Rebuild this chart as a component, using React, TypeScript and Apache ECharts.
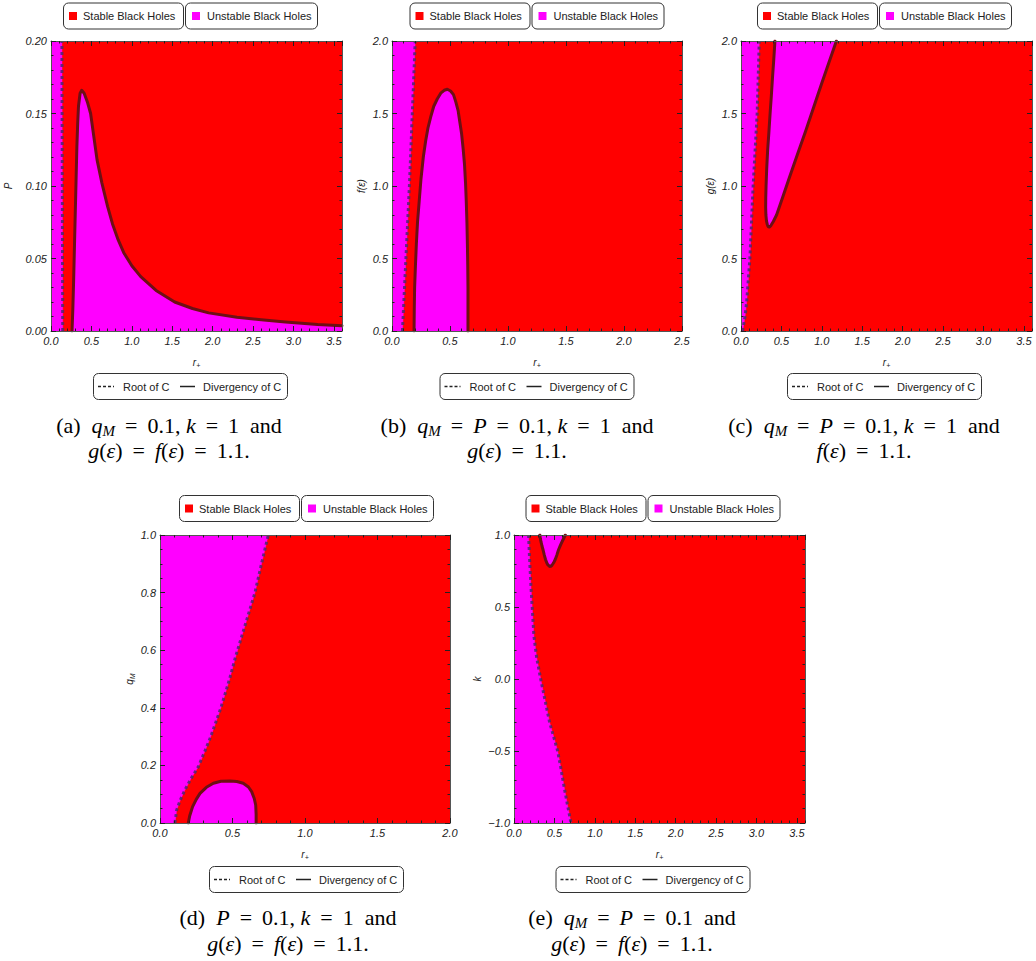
import React, { useEffect, useRef } from 'react';
import * as echarts from 'echarts';

// ---------- colours ----------
const RED = '#ff0000';
const MAGENTA = '#ff00ff';
const DIV_COLOR = '#6e0f14';
const ROOT_COLOR = '#4a2a6e';

// ---------- data ----------
// Panel (a): P vs r+
const aRoot = [[0.145, 0], [0.14, 0.1], [0.135, 0.2]];
const aDiv = [
  [0.26, 0], [0.27, 0.015], [0.28, 0.035], [0.29, 0.058], [0.3, 0.081], [0.31, 0.104],
  [0.32, 0.127], [0.33, 0.143], [0.34, 0.155], [0.36, 0.164], [0.38, 0.166], [0.41, 0.164], [0.45, 0.158],
  [0.49, 0.15], [0.53, 0.134], [0.57, 0.118], [0.63, 0.102], [0.7, 0.086], [0.76, 0.074],
  [0.83, 0.063], [0.9, 0.054], [1.0, 0.045], [1.11, 0.0375], [1.3, 0.028], [1.53, 0.02], [1.75, 0.0155],
  [1.95, 0.0125], [2.3, 0.0095], [2.6, 0.0078], [2.9, 0.0062], [3.3, 0.0045], [3.6, 0.0036],
];
// Panel (b): f(eps) vs r+
const bRoot = [[0.09, 0], [0.12, 0.5], [0.15, 1.0], [0.175, 1.5], [0.2, 2.0]];
const bDiv = [
  [0.19, 0], [0.192, 0.15], [0.195, 0.3], [0.202, 0.45], [0.21, 0.6], [0.22, 0.75], [0.235, 0.9],
  [0.25, 1.05], [0.27, 1.2], [0.29, 1.31], [0.31, 1.4], [0.335, 1.48], [0.36, 1.55], [0.39, 1.6],
  [0.42, 1.64], [0.45, 1.66], [0.477, 1.667], [0.505, 1.655], [0.53, 1.63], [0.55, 1.58], [0.57, 1.52],
  [0.585, 1.44], [0.6, 1.36], [0.613, 1.26], [0.625, 1.15], [0.634, 1.02], [0.64, 0.9], [0.646, 0.75],
  [0.65, 0.6], [0.653, 0.45], [0.655, 0.3], [0.655, 0.15], [0.655, 0],
];
// Panel (c): g(eps) vs r+
const cRoot = [[0.02, 0], [0.05, 0.1], [0.07, 0.2], [0.11, 0.5], [0.15, 1.0], [0.18, 1.3], [0.2, 1.5], [0.226, 2.0]];
const cDiv = [
  [0.42, 2.0], [0.405, 1.87], [0.39, 1.75], [0.375, 1.62], [0.36, 1.5], [0.345, 1.37], [0.33, 1.25],
  [0.318, 1.12], [0.31, 1.0], [0.306, 0.92], [0.305, 0.85], [0.308, 0.8], [0.315, 0.76],
  [0.325, 0.735], [0.335, 0.72], [0.35, 0.717], [0.37, 0.727], [0.4, 0.755], [0.44, 0.8],
  [0.52, 0.93], [0.6, 1.06], [0.7, 1.22], [0.8, 1.38], [0.9, 1.545], [1.0, 1.71], [1.09, 1.855], [1.18, 2.0],
];
// Panel (d): q_M vs r+
const dRoot = [
  [0.103, 0], [0.115, 0.045], [0.14, 0.08], [0.172, 0.115], [0.215, 0.155], [0.264, 0.195],
  [0.31, 0.25], [0.35, 0.3], [0.385, 0.35], [0.42, 0.4], [0.45, 0.45], [0.48, 0.5],
  [0.52, 0.575], [0.563, 0.647], [0.61, 0.725], [0.655, 0.8], [0.7, 0.9], [0.747, 1.0],
];
const dDiv = [
  [0.195, 0], [0.205, 0.025], [0.225, 0.057], [0.25, 0.082], [0.276, 0.103], [0.32, 0.124],
  [0.368, 0.138], [0.42, 0.145], [0.483, 0.146], [0.53, 0.144], [0.574, 0.138], [0.61, 0.125],
  [0.632, 0.109], [0.65, 0.085], [0.66, 0.0625], [0.663, 0.03], [0.663, 0],
];
// Panel (e): k vs r+
const eRoot = [
  [0.18, 1.0], [0.19, 0.87], [0.2, 0.75], [0.212, 0.62], [0.225, 0.5], [0.246, 0.3], [0.28, 0.15],
  [0.33, 0], [0.385, -0.15], [0.44, -0.3], [0.49, -0.4], [0.54, -0.5], [0.58, -0.62], [0.62, -0.75],
  [0.66, -0.87], [0.705, -1.0],
];
const eDiv = [
  [0.32, 1.0], [0.326, 0.975], [0.335, 0.95], [0.347, 0.922], [0.36, 0.896], [0.375, 0.86],
  [0.39, 0.83], [0.405, 0.807], [0.42, 0.792], [0.44, 0.782], [0.455, 0.783], [0.47, 0.79],
  [0.49, 0.807], [0.51, 0.83], [0.53, 0.86], [0.55, 0.896], [0.575, 0.93], [0.6, 0.96], [0.635, 1.0],
];

// axis ranges: [min, max, major, minor, decimals]
const aX = [0, 3.6, 0.5, 0.1, 1];
const aY = [0, 0.2, 0.05, 0.01, 2];
const bX = [0, 2.5, 0.5, 0.1, 1];
const bY = [0, 2, 0.5, 0.1, 1];
const cX = [0, 3.6, 0.5, 0.1, 1];
const cY = [0, 2, 0.5, 0.1, 1];
const dX = [0, 2, 0.5, 0.1, 1];
const dY = [0, 1, 0.2, 0.05, 1];
const eX = [0, 3.6, 0.5, 0.1, 1];
const eY = [-1, 1, 0.5, 0.1, 1];

const SANS = "'Liberation Sans', Arial, Helvetica, sans-serif";
const SERIF = "'Liberation Serif', 'DejaVu Serif', 'Times New Roman', serif";

const L2_GF = '{i|g}{r|(}{i|ε}{r|)}{e|=}{i|f}{r|(}{i|ε}{r|)}{e|=}{r|1.1.}';

const panels = [
  {
    grid: { left: 51, top: 41, width: 291, height: 290 }, xr: aX, yr: aY,
    yName: '{i|P}', yGap: 36,
    leftFill: [[0, 0], ...aRoot, [0, 0.2]], divFill: [...aDiv, [3.6, 0]], root: aRoot, div: aDiv,
    lcx: 190, lTop: 2.5, bTop: 373,
    cap1: '{r|(a)  }{i|q}{s|M}{e|=}{r|0.1, }{i|k}{e|=}{r|1  and}', cap2: L2_GF, capX: 169, capY1: 425, capY2: 450,
  },
  {
    grid: { left: 392, top: 41, width: 290, height: 290 }, xr: bX, yr: bY,
    yName: '{i|f}{i|(}{i|ε}{i|)}', yGap: 24,
    leftFill: [[0, 0], ...bRoot, [0, 2]], divFill: bDiv, root: bRoot, div: bDiv,
    lcx: 536.5, lTop: 2.5, bTop: 373,
    cap1: '{r|(b)  }{i|q}{s|M}{e|=}{i|P}{e|=}{r|0.1, }{i|k}{e|=}{r|1  and}',
    cap2: '{i|g}{r|(}{i|ε}{r|)}{e|=}{r|1.1.}', capX: 517, capY1: 425, capY2: 450,
  },
  {
    grid: { left: 741, top: 41, width: 291, height: 290 }, xr: cX, yr: cY,
    yName: '{i|g}{i|(}{i|ε}{i|)}', yGap: 24,
    leftFill: [[0, 0], ...cRoot, [0, 2]], divFill: cDiv, root: cRoot, div: cDiv,
    lcx: 884, lTop: 2.5, bTop: 373,
    cap1: '{r|(c)  }{i|q}{s|M}{e|=}{i|P}{e|=}{r|0.1, }{i|k}{e|=}{r|1  and}',
    cap2: '{i|f}{r|(}{i|ε}{r|)}{e|=}{r|1.1.}', capX: 864, capY1: 425, capY2: 450,
  },
  {
    grid: { left: 160, top: 535, width: 290, height: 288 }, xr: dX, yr: dY,
    yName: '{i|q}{s|M}', yGap: 24,
    leftFill: [[0, 0], ...dRoot, [0, 1]], divFill: dDiv, root: dRoot, div: dDiv,
    lcx: 306, lTop: 495, bTop: 866,
    cap1: '{r|(d)  }{i|P}{e|=}{r|0.1, }{i|k}{e|=}{r|1  and}', cap2: L2_GF, capX: 288, capY1: 917, capY2: 943,
  },
  {
    grid: { left: 514, top: 535, width: 291, height: 288 }, xr: eX, yr: eY,
    yName: '{i|k}', yGap: 30,
    leftFill: [[0, 1], ...eRoot, [0, -1]], divFill: eDiv, root: eRoot, div: eDiv,
    lcx: 652.5, lTop: 495, bTop: 866,
    cap1: '{r|(e)  }{i|q}{s|M}{e|=}{i|P}{e|=}{r|0.1  and}', cap2: L2_GF, capX: 632, capY1: 917, capY2: 943,
  },
];

function fmt(dec: number) {
  return (v: number) => {
    const s = Math.abs(v).toFixed(dec);
    return (v < -1e-9 ? '\u2212' : '') + s;
  };
}

const nameRich = {
  i: { fontStyle: 'italic', fontFamily: SANS, fontSize: 10, color: '#222', lineHeight: 13 },
  s: { fontStyle: 'italic', fontFamily: SANS, fontSize: 7, color: '#222', lineHeight: 8, verticalAlign: 'bottom' },
};

function makeAxis(dim: 'x' | 'y', i: number, p: any, pos: string, major: boolean, labels: boolean) {
  const r = dim === 'x' ? p.xr : p.yr;
  const [min, max, maj, mnr, dec] = r;
  const isMaxMultiple = Math.abs(Math.round(max / maj) * maj - max) < 1e-9;
  const ax: any = {
    type: 'value', gridIndex: i, position: pos, min, max, interval: major ? maj : mnr, z: 5,
    axisLine: { show: major, onZero: false, lineStyle: { color: '#555', width: 1 } },
    axisTick: { show: true, inside: true, length: major ? 5 : 2.5, lineStyle: { color: '#222', width: 1 } },
    splitLine: { show: false },
    axisLabel: labels
      ? {
          show: true, margin: 4, formatter: fmt(dec), color: '#222', fontFamily: SANS,
          fontStyle: 'italic', fontSize: 11, showMaxLabel: isMaxMultiple, showMinLabel: true,
        }
      : { show: false },
  };
  if (labels && dim === 'x') {
    ax.name = '{i|r}{s|+}';
    ax.nameLocation = 'middle';
    ax.nameGap = 25;
    ax.nameTextStyle = { rich: nameRich };
  }
  if (labels && dim === 'y') {
    ax.name = p.yName;
    ax.nameLocation = 'middle';
    ax.nameRotate = 90;
    ax.nameGap = p.yGap;
    ax.nameTextStyle = { rich: nameRich };
  }
  return ax;
}

function polySeries(points: number[][], i: number, color: string) {
  return {
    type: 'custom',
    xAxisIndex: i * 4,
    yAxisIndex: i * 4,
    clip: true,
    silent: true,
    z: 2,
    data: points,
    renderItem: (params: any, api: any) => {
      if (params.dataIndex !== 0) return null;
      return {
        type: 'polygon',
        shape: { points: points.map((pt) => api.coord(pt)) },
        style: { fill: color, stroke: color, lineWidth: 0.5 },
      };
    },
  };
}

function lineSeries(points: number[][], i: number, color: string, dashed: boolean) {
  return {
    type: 'line',
    xAxisIndex: i * 4,
    yAxisIndex: i * 4,
    data: points,
    symbol: 'none',
    silent: true,
    smooth: false,
    z: 3,
    lineStyle: dashed
      ? { color, width: 3, type: [3, 3], opacity: 0.85, join: 'round' }
      : { color, width: 3, join: 'round', cap: 'round' },
  };
}

function topLegend(cx: number, ty: number) {
  const b1 = cx - 127;
  const b2 = cx - 5;
  const txt = (x: number, t: string) => ({
    type: 'text', x, y: ty + 13.5, silent: true,
    style: { text: t, fill: '#222', fontFamily: SANS, fontSize: 11, verticalAlign: 'middle', align: 'left' },
  });
  return [
    { type: 'rect', silent: true, shape: { x: b1 + 0.5, y: ty + 0.5, width: 120, height: 26, r: 5 }, style: { fill: '#fff', stroke: '#333', lineWidth: 1 } },
    { type: 'rect', silent: true, shape: { x: b1 + 6, y: ty + 9.5, width: 8, height: 8 }, style: { fill: RED } },
    txt(b1 + 20, 'Stable Black Holes'),
    { type: 'rect', silent: true, shape: { x: b2 + 0.5, y: ty + 0.5, width: 132, height: 26, r: 5 }, style: { fill: '#fff', stroke: '#333', lineWidth: 1 } },
    { type: 'rect', silent: true, shape: { x: b2 + 7, y: ty + 9.5, width: 8, height: 8 }, style: { fill: MAGENTA } },
    txt(b2 + 22, 'Unstable Black Holes'),
  ];
}

function bottomLegend(cx: number, ty: number) {
  const bx = cx - 97;
  const cy = ty + 13.5;
  const txt = (x: number, t: string) => ({
    type: 'text', x, y: cy, silent: true,
    style: { text: t, fill: '#222', fontFamily: SANS, fontSize: 11, verticalAlign: 'middle', align: 'left' },
  });
  return [
    { type: 'rect', silent: true, shape: { x: bx + 0.5, y: ty + 0.5, width: 194, height: 26, r: 5 }, style: { fill: '#fff', stroke: '#333', lineWidth: 1 } },
    { type: 'line', silent: true, shape: { x1: bx + 5, y1: cy, x2: bx + 21, y2: cy }, style: { stroke: '#222', lineWidth: 1.5, lineDash: [3, 2] } },
    txt(bx + 30, 'Root of C'),
    { type: 'line', silent: true, shape: { x1: bx + 87, y1: cy, x2: bx + 102, y2: cy }, style: { stroke: '#222', lineWidth: 1.5 } },
    txt(bx + 110, 'Divergency of C'),
  ];
}

const capRich = {
  r: { fontFamily: SERIF, fontSize: 22, fill: '#000', lineHeight: 26 },
  i: { fontFamily: SERIF, fontSize: 22, fontStyle: 'italic', fill: '#000', lineHeight: 26 },
  s: { fontFamily: SERIF, fontSize: 15, fontStyle: 'italic', fill: '#000', lineHeight: 15, verticalAlign: 'bottom' },
  e: { fontFamily: SERIF, fontSize: 22, fill: '#000', lineHeight: 26, padding: [0, 10, 0, 10] },
};

function caption(x: number, y: number, text: string) {
  return {
    type: 'text', x, y, silent: true,
    style: { text, rich: capRich, align: 'center', verticalAlign: 'middle', fill: '#000' },
  };
}

export default function App() {
  const ref = useRef<HTMLDivElement>(null);
  useEffect(() => {
    if (!ref.current) return;
    const chart = echarts.init(ref.current, undefined, { renderer: 'svg' });
    const grid: any[] = [];
    const xAxis: any[] = [];
    const yAxis: any[] = [];
    const series: any[] = [];
    const graphic: any[] = [];
    panels.forEach((p, i) => {
      grid.push({ ...p.grid, show: true, backgroundColor: RED, borderWidth: 0, containLabel: false });
      xAxis.push(makeAxis('x', i, p, 'bottom', true, true));
      xAxis.push(makeAxis('x', i, p, 'bottom', false, false));
      xAxis.push(makeAxis('x', i, p, 'top', true, false));
      xAxis.push(makeAxis('x', i, p, 'top', false, false));
      yAxis.push(makeAxis('y', i, p, 'left', true, true));
      yAxis.push(makeAxis('y', i, p, 'left', false, false));
      yAxis.push(makeAxis('y', i, p, 'right', true, false));
      yAxis.push(makeAxis('y', i, p, 'right', false, false));
      series.push(polySeries(p.leftFill, i, MAGENTA));
      series.push(polySeries(p.divFill, i, MAGENTA));
      series.push(lineSeries(p.root, i, ROOT_COLOR, true));
      series.push(lineSeries(p.div, i, DIV_COLOR, false));
      graphic.push(...topLegend(p.lcx, p.lTop));
      graphic.push(...bottomLegend(p.lcx, p.bTop));
      graphic.push(caption(p.capX, p.capY1, p.cap1));
      graphic.push(caption(p.capX, p.capY2, p.cap2));
    });
    chart.setOption({
      animation: false,
      backgroundColor: '#ffffff',
      grid, xAxis, yAxis, series, graphic,
    });
    return () => chart.dispose();
  }, []);
  return <div ref={ref} style={{ position: 'absolute', left: 0, top: 0, width: 1036, height: 961 }} />;
}
